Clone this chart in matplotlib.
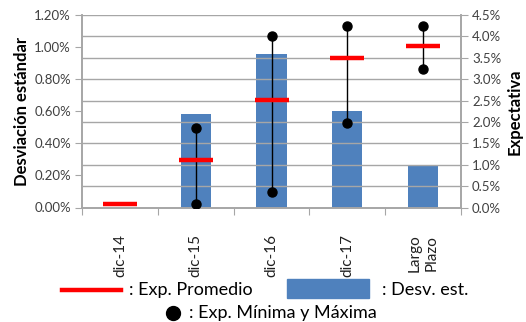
import matplotlib
matplotlib.use('Agg')
import matplotlib.pyplot as plt
from matplotlib.lines import Line2D
from matplotlib.patches import Rectangle
from matplotlib.ticker import PercentFormatter, FixedLocator

plt.rcParams['font.family'] = ['Lato', 'DejaVu Sans']

# Encuesta de expectativas: desviación estándar y expectativa (en %)
periodos = ['dic-14', 'dic-15', 'dic-16', 'dic-17', 'Largo\nPlazo']
desv_est = [0.0, 0.58, 0.96, 0.60, 0.26]
exp_promedio = [0.09, 1.10, 2.51, 3.49, 3.78]
exp_minima = [None, 0.08, 0.36, 1.98, 3.24]
exp_maxima = [None, 1.85, 4.00, 4.24, 4.24]

azul = '#4F81BD'
gris = '#A6A6A6'
texto = '#404040'

fig = plt.figure(figsize=(5.26, 3.22), dpi=100)
ax = fig.add_axes([82/526, 1 - 207.5/322, 379/526, 192.5/322])
ax2 = ax.twinx()

x = list(range(len(periodos)))

# barras de desviación estándar (eje izquierdo)
ax.bar(x, desv_est, width=0.4, color=azul, zorder=2)
ax.set_ylim(0, 1.2)
ax.set_xlim(-0.5, len(periodos) - 0.5)
ax.yaxis.set_major_locator(FixedLocator([0, 0.2, 0.4, 0.6, 0.8, 1.0, 1.2]))
ax.yaxis.set_major_formatter(PercentFormatter(decimals=2))
ax.set_ylabel('Desviación estándar', fontsize=12, fontweight='bold', labelpad=3)

# expectativas mínima, máxima y promedio (eje derecho)
for i in x:
    if exp_minima[i] is not None:
        ax2.vlines(i, exp_minima[i], exp_maxima[i], color='black', lw=1.0, zorder=3)
        ax2.plot([i, i], [exp_minima[i], exp_maxima[i]], 'o', color='black', ms=6.5, zorder=5)
ax2.plot(x, exp_promedio, linestyle='none', marker='_', ms=24, mew=3.2,
         color='#FF0000', zorder=4)
ax2.set_ylim(0, 4.5)
ax2.yaxis.set_major_locator(FixedLocator([i * 0.5 for i in range(10)]))
ax2.yaxis.set_major_formatter(PercentFormatter(decimals=1))
ax2.set_ylabel('Expectativa', fontsize=12, fontweight='bold', labelpad=4)

# líneas de grilla según el eje derecho, detrás de todo
for v in [i * 0.5 for i in range(1, 10)]:
    ax2.axhline(v, color=gris, lw=1.0, zorder=0)
ax.patch.set_visible(False)
ax2.patch.set_visible(False)

# eje x con marcas entre categorías
ax.set_xticks([i + 0.5 for i in range(-1, len(periodos))])
ax.set_xticklabels([])
ax.set_xticks(x, minor=True)
ax.set_xticklabels(periodos, minor=True, rotation=90, fontsize=11,
                   va='top', ha='center', linespacing=1.35, color='#202020')
ax.tick_params(axis='x', which='minor', length=0, pad=19)
ax.tick_params(axis='x', which='major', length=5, color=gris)

for a in (ax, ax2):
    a.spines['top'].set_visible(False)
    for s in ('left', 'right', 'bottom'):
        a.spines[s].set_color(gris)
        a.spines[s].set_linewidth(1.2)
ax.tick_params(axis='y', length=5, color=gris, labelsize=9.5, pad=3, labelcolor=texto)
ax2.tick_params(axis='y', length=5, color=gris, labelsize=9.5, pad=3, labelcolor=texto)

# leyenda dibujada a mano bajo el gráfico
W, H = 526.0, 322.0
fig.add_artist(Line2D([62/W, 121/W], [1 - 290/H] * 2, color='#FF0000', lw=3.2))
fig.text(129/W, 1 - 290/H, ': Exp. Promedio', fontsize=13, va='center')
fig.add_artist(Rectangle((287/W, 1 - 298/H), 82/W, 19/H, color=azul))
fig.text(382/W, 1 - 290/H, ': Desv. est.', fontsize=13, va='center')
fig.add_artist(Line2D([173/W], [1 - 313/H], marker='o', ms=10, color='black'))
fig.text(189/W, 1 - 313/H, ': Exp. Mínima y Máxima', fontsize=13, va='center')

fig.savefig('out.png', dpi=100)
